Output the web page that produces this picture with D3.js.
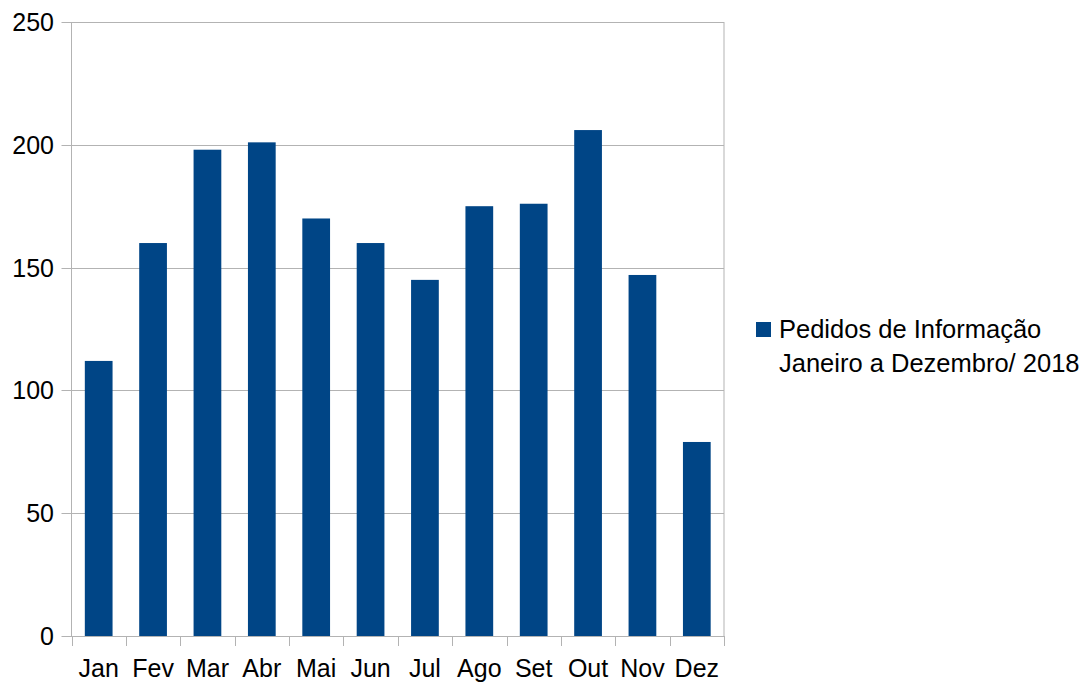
<!DOCTYPE html>
<html>
<head>
<meta charset="utf-8">
<script src="https://cdn.jsdelivr.net/npm/d3@7"></script>
<style>
  body { margin: 0; background: #fff; }
  text { font-family: "Liberation Sans", Arial, sans-serif; fill: #000; }
</style>
</head>
<body>
<script>
const months = ["Jan", "Fev", "Mar", "Abr", "Mai", "Jun", "Jul", "Ago", "Set", "Out", "Nov", "Dez"];
const pedidos = [112, 160, 198, 201, 170, 160, 145, 175, 176, 206, 147, 79];
const yTicks = [0, 50, 100, 150, 200, 250];
const legendLines = ["Pedidos de Informação", "Janeiro a Dezembro/ 2018"];

const width = 1090;
const height = 685;
const plot = { left: 71.5, right: 724, top: 22, bottom: 636 };
const barColor = "#004586";
const gridColor = "#b3b3b3";

const svg = d3.select("body").append("svg")
  .attr("width", width)
  .attr("height", height);

const x = d3.scaleBand()
  .domain(months)
  .range([plot.left, plot.right])
  .paddingInner(0.49)
  .paddingOuter(0.245);

const y = d3.scaleLinear()
  .domain([0, 250])
  .range([plot.bottom, plot.top]);

// grid lines
svg.append("g")
  .selectAll("line")
  .data(yTicks)
  .join("line")
  .attr("x1", plot.left - 10)
  .attr("x2", plot.right)
  .attr("y1", d => Math.round(y(d)) + 0.5)
  .attr("y2", d => Math.round(y(d)) + 0.5)
  .attr("stroke", gridColor)
  .attr("stroke-width", 1);

// y labels
svg.append("g")
  .selectAll("text")
  .data(yTicks)
  .join("text")
  .attr("x", 54)
  .attr("y", d => y(d) + 9)
  .attr("text-anchor", "end")
  .attr("font-size", 25)
  .text(d => d);

// vertical frame lines
[plot.left, plot.right].forEach(px => {
  svg.append("line")
    .attr("x1", px).attr("x2", px)
    .attr("y1", plot.top).attr("y2", plot.bottom)
    .attr("stroke", gridColor);
});

// bars
svg.append("g")
  .selectAll("rect")
  .data(pedidos)
  .join("rect")
  .attr("x", (d, i) => x(months[i]))
  .attr("y", d => y(d))
  .attr("width", x.bandwidth())
  .attr("height", d => y(0) - y(d))
  .attr("fill", barColor);

// x axis ticks at category boundaries
const step = x.step();
const bounds = d3.range(months.length + 1).map(i => plot.left + i * step);
svg.append("g")
  .selectAll("line")
  .data(bounds)
  .join("line")
  .attr("x1", d => Math.round(d) + 0.5)
  .attr("x2", d => Math.round(d) + 0.5)
  .attr("y1", plot.bottom)
  .attr("y2", plot.bottom + 10)
  .attr("stroke", gridColor);

// x labels
svg.append("g")
  .selectAll("text")
  .data(months)
  .join("text")
  .attr("x", d => x(d) + x.bandwidth() / 2)
  .attr("y", 677)
  .attr("text-anchor", "middle")
  .attr("font-size", 25)
  .text(d => d);

// legend
svg.append("rect")
  .attr("x", 756)
  .attr("y", 322)
  .attr("width", 15)
  .attr("height", 15)
  .attr("fill", barColor);

svg.append("g")
  .selectAll("text")
  .data(legendLines)
  .join("text")
  .attr("x", 779)
  .attr("y", (d, i) => 338 + i * 33.5)
  .attr("font-size", 25.5)
  .text(d => d);
</script>
</body>
</html>
